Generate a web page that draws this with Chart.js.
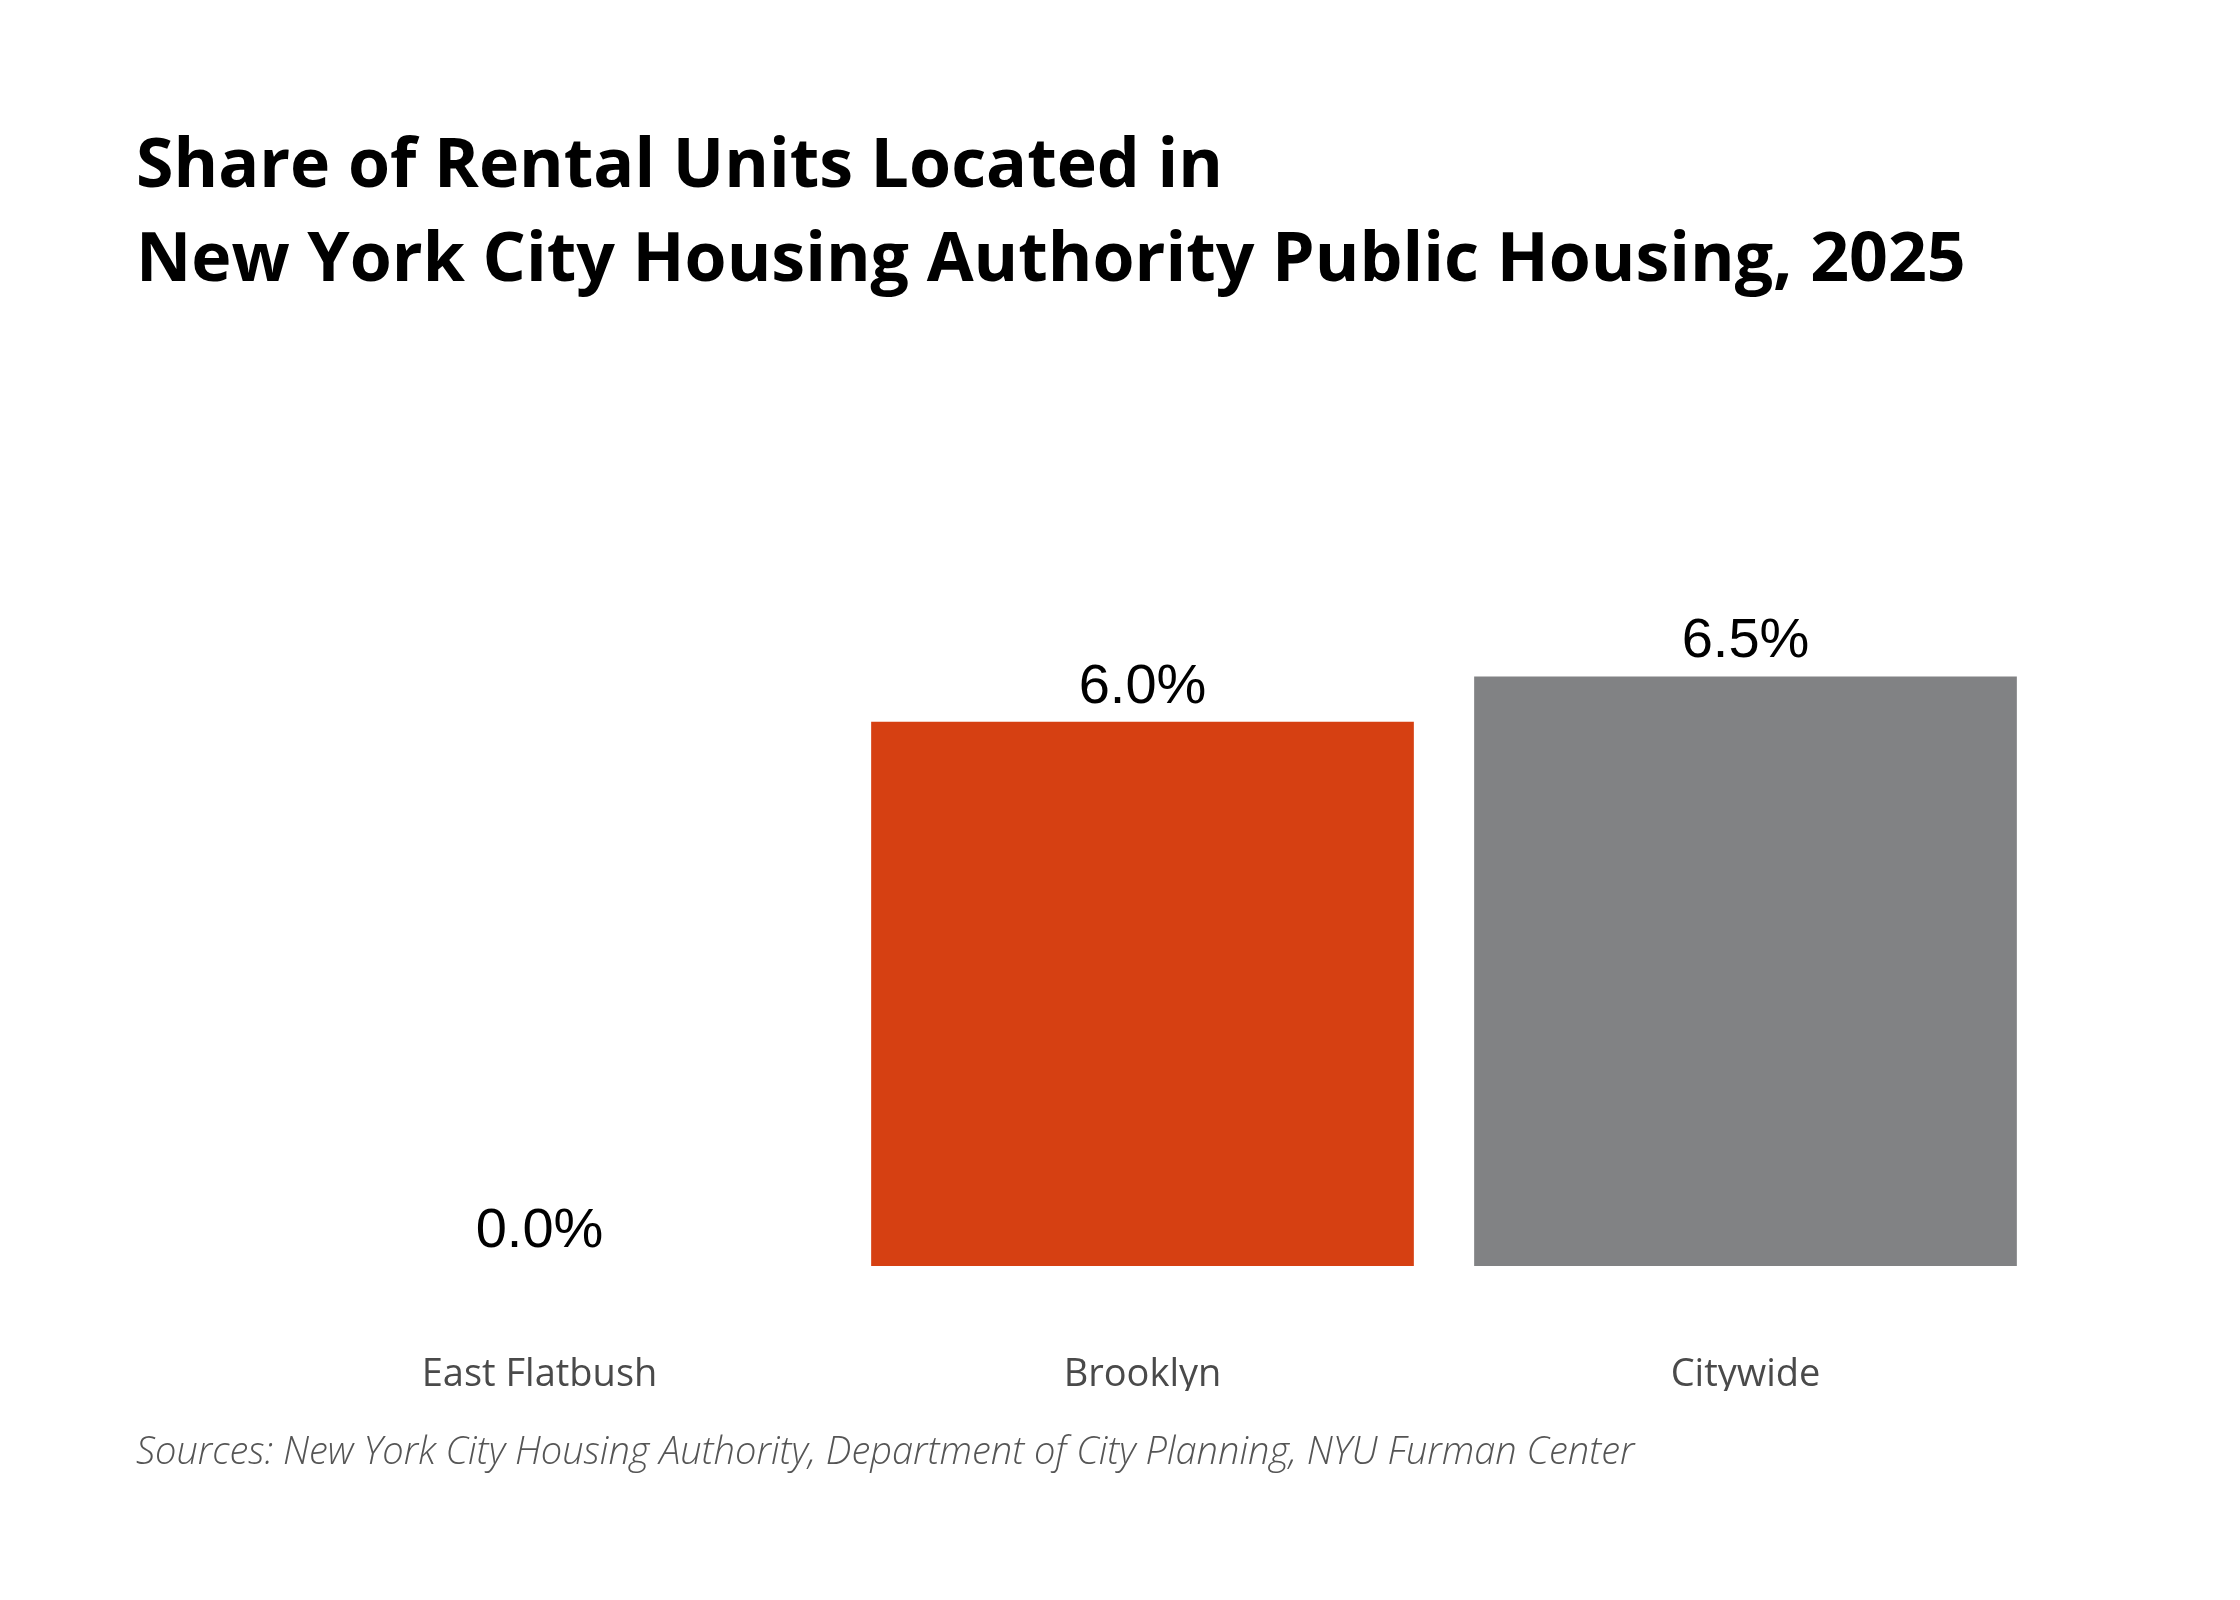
<!DOCTYPE html>
<html>
<head>
<meta charset="utf-8">
<script src="https://cdn.jsdelivr.net/npm/chart.js@4.4.1/dist/chart.umd.min.js"></script>
<style>
  html, body { margin: 0; padding: 0; background: #ffffff; }
  #wrap { width: 2240px; height: 1600px; }
</style>
</head>
<body>
<div id="wrap"><canvas id="nychaShare" width="2240" height="1600"></canvas></div>
<script>
// data
const categories = ['East Flatbush', 'Brooklyn', 'Citywide'];
const shares = [0.0, 6.0, 6.5];
const titleLines = ['Share of Rental Units Located in', 'New York City Housing Authority Public Housing, 2025'];
const sourceNote = 'Sources: New York City Housing Authority, Department of City Planning, NYU Furman Center';

const barColors = ['#d64012', '#d64012', '#818284'];

// prints the % value above each bar
const valueLabels = {
    id: 'valueLabels',
    afterDatasetsDraw(chart) {
        const ctx = chart.ctx;
        const meta = chart.getDatasetMeta(0);
        ctx.save();
        ctx.font = '56px "Liberation Sans", Arial, sans-serif';
        ctx.fillStyle = '#000000';
        ctx.textAlign = 'center';
        ctx.textBaseline = 'alphabetic';
        meta.data.forEach(function (bar, i) {
            ctx.fillText(shares[i].toFixed(1) + '%', bar.x, bar.y - 19);
        });
        ctx.restore();
    }
};

document.addEventListener("DOMContentLoaded", function () {
    var ctx = document.getElementById('nychaShare').getContext('2d');
    var chart = new Chart(ctx, {
        type: 'bar',
        data: {
            labels: categories,
            datasets: [
                {
                    label: 'Share',
                    data: shares,
                    backgroundColor: barColors,
                    borderWidth: 0,
                    categoryPercentage: 1,
                    barPercentage: 0.9
                }
            ]
        },
        options: {
            responsive: false,
            animation: false,
            devicePixelRatio: 1,
            layout: {
                padding: { left: 136, right: 193, top: 0, bottom: 0 }
            },
            scales: {
                x: {
                    grid: { display: false, drawTicks: false },
                    border: { display: false },
                    ticks: {
                        padding: 86,
                        color: '#4a4a4a',
                        font: { family: 'Open Sans', size: 38, weight: 'normal' }
                    },
                    afterFit: function (scale) { scale.height = 125; }
                },
                y: {
                    min: 0,
                    max: 10,
                    grid: { display: false, drawTicks: false },
                    border: { display: false },
                    ticks: { display: false },
                    afterFit: function (scale) { scale.width = 102; }
                }
            },
            plugins: {
                legend: { display: false },
                tooltip: { enabled: false },
                title: {
                    display: true,
                    text: titleLines,
                    align: 'start',
                    color: '#000000',
                    font: { family: 'Open Sans', size: 68, weight: 'bold', lineHeight: 1.382 },
                    padding: { top: 121, bottom: 50 }
                },
                subtitle: {
                    display: true,
                    text: sourceNote,
                    position: 'bottom',
                    align: 'start',
                    color: '#555555',
                    font: { family: 'Open Sans', size: 38, style: 'italic', weight: 300, lineHeight: 1.2 },
                    padding: { top: 39.4, bottom: 124 }
                }
            }
        },
        plugins: [valueLabels]
    });
});
</script>
</body>
</html>
